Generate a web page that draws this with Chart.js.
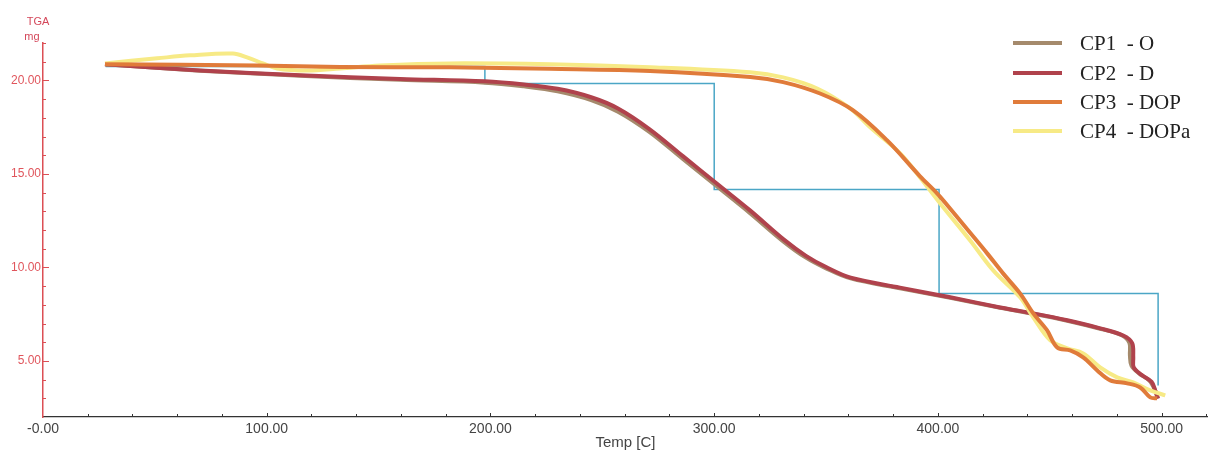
<!DOCTYPE html>
<html>
<head>
<meta charset="utf-8">
<script src="https://cdn.jsdelivr.net/npm/chart.js@4/dist/chart.umd.min.js"></script>
<style>
  html, body { margin: 0; padding: 0; background: #fff; }
  #wrap { width: 1208px; height: 450px; }
</style>
</head>
<body>
<div id="wrap"><canvas id="tga"></canvas></div>
<script>
// TGA curves: temperature [C] vs mass [mg]
var cp1Temp = [27.7, 70.2, 114.9, 159.6, 197.6, 215.0, 230.0, 245.0, 257.0, 271.0, 286.0, 301.0, 316.0, 331.0, 341.0, 350.0, 361.0, 383.0, 405.5, 427.8, 442.6, 457.8, 472.5, 482.3, 485.6, 485.8, 486.5, 490.0, 494.5, 497.0, 498.2]
var cp1Mass = [20.86, 20.52, 20.25, 20.03, 19.88, 19.68, 19.42, 18.95, 18.33, 17.25, 15.80, 14.35, 12.90, 11.38, 10.52, 9.95, 9.41, 8.88, 8.37, 7.84, 7.52, 7.15, 6.72, 6.36, 5.95, 5.30, 4.75, 4.32, 3.95, 3.45, 3.00]

var cp2Temp = [27.7, 70.2, 114.9, 159.6, 197.6, 215.0, 230.0, 245.0, 257.0, 271.0, 286.0, 301.0, 316.0, 331.0, 341.0, 350.0, 361.0, 383.0, 405.5, 427.8, 442.6, 457.8, 472.5, 482.8, 486.8, 487.3, 487.5, 491.0, 495.5, 497.1, 498.4]
var cp2Mass = [20.86, 20.53, 20.27, 20.08, 19.95, 19.78, 19.55, 19.10, 18.50, 17.40, 15.95, 14.50, 13.05, 11.50, 10.62, 10.02, 9.45, 8.92, 8.40, 7.86, 7.54, 7.17, 6.74, 6.36, 5.95, 5.20, 4.65, 4.25, 3.88, 3.42, 2.98]

var cp3Temp = [27.7, 95.7, 132.8, 181.9, 226.6, 271.3, 316.1, 330.8, 347.3, 362.1, 377.3, 392.0, 399.6, 406.8, 414.4, 422.0, 429.1, 436.7, 442.6, 448.8, 453.3, 459.1, 464.9, 471.2, 477.0, 484.6, 490.4, 494.9, 498.0]
var cp3Mass = [20.86, 20.80, 20.72, 20.70, 20.62, 20.50, 20.18, 19.91, 19.30, 18.40, 16.79, 14.87, 13.96, 12.95, 11.85, 10.75, 9.68, 8.61, 7.54, 6.63, 5.72, 5.56, 5.19, 4.49, 3.96, 3.80, 3.58, 3.05, 3.00]

var cp4Temp = [27.7, 51.0, 65.7, 84.9, 91.2, 98.3, 104.6, 118.0, 132.8, 150.6, 181.9, 226.6, 271.3, 316.1, 330.8, 346.0, 360.8, 369.7, 383.1, 392.0, 401.0, 414.4, 424.7, 436.7, 442.6, 450.2, 457.8, 464.9, 472.5, 480.1, 487.3, 494.9, 501.6]
var cp4Mass = [20.91, 21.18, 21.34, 21.44, 21.23, 20.91, 20.64, 20.53, 20.64, 20.80, 20.91, 20.86, 20.70, 20.43, 20.16, 19.57, 18.50, 17.49, 16.10, 14.81, 13.42, 11.44, 9.84, 8.40, 7.33, 6.10, 5.67, 5.40, 4.65, 4.12, 3.85, 3.42, 3.16]

// analysis step markers
var stepTemp = [28, 197.5, 197.5, 300, 300, 400.5, 400.5, 498.4, 498.4]
var stepMass = [20.75, 20.75, 19.84, 19.84, 14.17, 14.17, 8.61, 8.61, 3.69]

var seriesNames = ['CP1  - O', 'CP2  - D', 'CP3  - DOP', 'CP4  - DOPa']
var seriesColors = ['#a58a6c', '#b0424c', '#e07b3a', '#f7ea86']

var xTicks = [0, 100, 200, 300, 400, 500]
var xTickLabels = ['-0.00', '100.00', '200.00', '300.00', '400.00', '500.00']
var yTicks = [5, 10, 15, 20]
var yTickLabels = ['5.00', '10.00', '15.00', '20.00']

function pts(xs, ys) {
    var out = []
    for (var i = 0; i < xs.length; i++) {
        out.push({x: xs[i], y: ys[i]})
    }
    return out
}

function curve(idx, xs, ys, order) {
    return {
        label: seriesNames[idx],
        data: pts(xs, ys),
        borderColor: seriesColors[idx],
        backgroundColor: seriesColors[idx],
        borderWidth: 4,
        showLine: true,
        pointRadius: 0,
        tension: 0.35,
        order: order
    }
}

// inward tick marks, axis captions and the legend box
var decorations = {
    id: 'decorations',
    afterDraw: function (chart) {
        var ctx = chart.ctx
        var xs = chart.scales.x
        var ys = chart.scales.y
        var area = chart.chartArea
        ctx.save()

        ctx.strokeStyle = '#333'
        ctx.lineWidth = 1
        for (var t = 20; t <= 520; t += 20) {
            var px = Math.round(xs.getPixelForValue(t)) + 0.5
            ctx.beginPath()
            ctx.moveTo(px, area.bottom)
            ctx.lineTo(px, area.bottom - (t % 100 === 0 ? 4 : 3))
            ctx.stroke()
        }

        ctx.strokeStyle = '#dc4f55'
        for (var v = 3; v <= 22; v++) {
            var py = Math.round(ys.getPixelForValue(v)) + 0.5
            ctx.beginPath()
            ctx.moveTo(area.left, py)
            ctx.lineTo(area.left + (v % 5 === 0 ? 6 : 3), py)
            ctx.stroke()
        }

        ctx.fillStyle = '#d4475a'
        ctx.font = '11px "Liberation Sans", Arial, sans-serif'
        ctx.textAlign = 'center'
        ctx.textBaseline = 'middle'
        ctx.fillText('TGA', 38, 22)
        ctx.fillText('mg', 32, 37)

        ctx.textAlign = 'left'
        ctx.font = '21px "Liberation Serif", "Times New Roman", serif'
        var rows = [43, 73, 102, 131]
        for (var i = 0; i < 4; i++) {
            ctx.strokeStyle = seriesColors[i]
            ctx.lineWidth = 4
            ctx.beginPath()
            ctx.moveTo(1013, rows[i])
            ctx.lineTo(1062, rows[i])
            ctx.stroke()
            ctx.fillStyle = '#222'
            ctx.fillText(seriesNames[i], 1080, rows[i] + 1)
        }
        ctx.restore()
    }
}

var ctx = document.getElementById('tga').getContext('2d')
var chart = new Chart(ctx, {
    type: 'scatter',
    data: {
        datasets: [
            curve(0, cp1Temp, cp1Mass, 3),
            curve(1, cp2Temp, cp2Mass, 2),
            curve(2, cp3Temp, cp3Mass, 0),
            curve(3, cp4Temp, cp4Mass, 1),
            {
                label: 'steps',
                data: pts(stepTemp, stepMass),
                borderColor: '#4ba6c6',
                borderWidth: 1.5,
                showLine: true,
                pointRadius: 0,
                tension: 0,
                order: 9
            }
        ]
    },
    options: {
        responsive: true,
        maintainAspectRatio: false,
        animation: false,
        layout: { padding: { top: 43, left: 0, right: 0, bottom: 0 } },
        plugins: { legend: { display: false }, tooltip: { enabled: false } },
        scales: {
            x: {
                type: 'linear',
                min: 0,
                max: 520.7,
                afterBuildTicks: function (s) { s.ticks = xTicks.map(function (v) { return {value: v} }) },
                afterFit: function (s) { s.height = 33 },
                grid: { display: false, drawTicks: false },
                border: { display: true, color: '#333', width: 1.2 },
                ticks: {
                    padding: 4,
                    color: '#444',
                    font: { family: '"Liberation Sans", Arial, sans-serif', size: 14 },
                    maxRotation: 0,
                    callback: function (v, i) { return xTickLabels[i] }
                },
                title: {
                    display: true,
                    text: 'Temp [C]',
                    color: '#444',
                    font: { family: '"Liberation Sans", Arial, sans-serif', size: 15, lineHeight: 1 },
                    padding: { top: 0, bottom: 0 }
                }
            },
            y: {
                type: 'linear',
                min: 2,
                max: 22,
                afterBuildTicks: function (s) { s.ticks = yTicks.map(function (v) { return {value: v} }) },
                afterFit: function (s) { s.width = 43 },
                grid: { display: false, drawTicks: false },
                border: { display: true, color: '#dc4f55', width: 1.5 },
                ticks: {
                    padding: 2,
                    color: '#e0555c',
                    font: { family: '"Liberation Sans", Arial, sans-serif', size: 12 },
                    callback: function (v, i) { return yTickLabels[i] }
                }
            }
        }
    },
    plugins: [decorations]
})
</script>
</body>
</html>
